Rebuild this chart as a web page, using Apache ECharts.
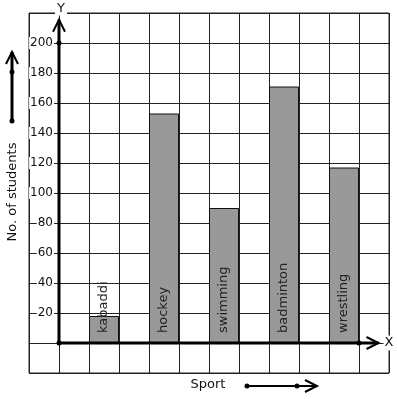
<!DOCTYPE html>
<html>
<head>
<meta charset="UTF-8">
<title>No. of students by sport</title>
<script src="https://cdn.jsdelivr.net/npm/echarts@6/dist/echarts.min.js"></script>
<style>html, body { margin: 0; padding: 0; background: #fff; }</style>
</head>
<body>
<div id="chart" style="width:397px; height:399px;"></div>
<script>
// data
var categories = ['kabaddi', 'hockey', 'swimming', 'badminton', 'wrestling'];
var students = [18, 153, 90, 171, 117];
var yLabels = [20, 40, 60, 80, 100, 120, 140, 160, 180, 200];

var FONT = 'DejaVu Sans';
var chart = echarts.init(document.getElementById('chart'), null, {renderer: 'canvas'});

// each sport sits in the second column of a pair of grid squares
var barData = categories.map(function (c, i) {
    return {name: c, value: [2 * i + 1.5, students[i]]};
});

chart.setOption({
    animation: false,
    grid: {left: 29, top: 13, right: 8, bottom: 26, outerBoundsMode: 'none', containLabel: false,
           show: true, borderColor: '#222', borderWidth: 1},
    xAxis: {
        type: 'value', min: -1, max: 11, interval: 1,
        axisLine: {show: false},
        axisTick: {show: false},
        axisLabel: {show: false},
        splitLine: {show: true, lineStyle: {color: '#222', width: 1}}
    },
    yAxis: {
        type: 'value', min: -20, max: 220, interval: 20,
        position: 'left', offset: -30,   // one grid square in, where x = 0
        axisLine: {show: false, onZero: false},
        axisTick: {show: false},
        axisLabel: {
            margin: 5, fontSize: 12, fontFamily: FONT, color: '#111',
            backgroundColor: '#fff', padding: [0, 1],
            formatter: function (v) { return yLabels.indexOf(v) >= 0 ? String(v) : ''; }
        },
        splitLine: {show: true, lineStyle: {color: '#222', width: 1}}
    },
    series: [{
        type: 'bar',
        barWidth: 30,
        data: barData,
        itemStyle: {color: '#999999', borderColor: '#111', borderWidth: 1},
        label: {
            show: true, formatter: '{b}',
            position: 'insideBottom', rotate: 90, align: 'left', verticalAlign: 'middle',
            distance: 10, fontSize: 13, fontFamily: FONT, color: '#222'
        }
    }]
});

// axes with arrows, dots and captions
function px(p) { return chart.convertToPixel({gridIndex: 0}, p); }
var o = px([0, 0]);
var yTip = px([0, 215.5]);
var xTip = px([10.65, 0]);
var y200 = px([0, 200]);
var x10 = px([10, 0]);

function line(points, w) {
    return {type: 'polyline', z: 100, shape: {points: points}, style: {stroke: '#000', lineWidth: w, fill: null}};
}
function dot(p) {
    return {type: 'circle', z: 101, shape: {cx: p[0], cy: p[1], r: 2.5}, style: {fill: '#000'}};
}
function upHead(p) {
    return line([[p[0] - 6, p[1] + 12], [p[0], p[1]], [p[0] + 6, p[1] + 12]], 2);
}
function rightHead(p) {
    return line([[p[0] - 12, p[1] - 6], [p[0], p[1]], [p[0] - 12, p[1] + 6]], 2);
}
function label(txt, x, y, opts) {
    var st = {text: txt, x: x, y: y, fill: '#111', font: '13px "' + FONT + '"', align: 'center', verticalAlign: 'middle'};
    for (var k in opts) st[k] = opts[k];
    return {type: 'text', z: 102, style: st};
}

chart.setOption({
    graphic: [
        line([o, yTip], 3), upHead(yTip),
        line([o, xTip], 3), rightHead(xTip),
        dot(o), dot(y200), dot(x10),
        label('Y', yTip[0] + 2, 9, {backgroundColor: '#fff', padding: [0, 2]}),
        label('X', 389, o[1], {backgroundColor: '#fff', padding: [1, 1]}),
        // left caption with its arrow
        {type: 'text', z: 102, x: 13, y: 192, rotation: Math.PI / 2,
         style: {text: 'No. of students', fill: '#111', font: '13px "' + FONT + '"', align: 'center', verticalAlign: 'middle'}},
        line([[12, 121], [12, 52]], 3), upHead([12, 52]), dot([12, 72]), dot([12, 121]),
        // bottom caption with its arrow
        label('Sport', 208, 385, {}),
        line([[247, 386], [317, 386]], 2), rightHead([317, 386]), dot([247, 386]), dot([297, 386])
    ]
});
</script>
</body>
</html>
